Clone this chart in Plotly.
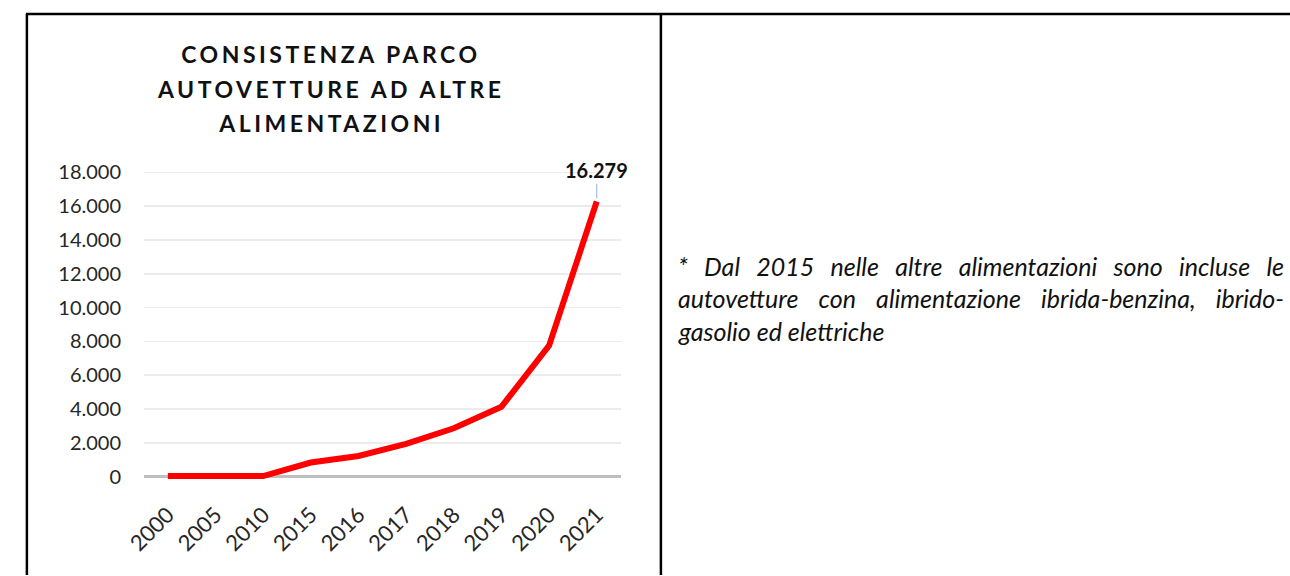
import plotly.graph_objects as go

# data
years = ["2000", "2005", "2010", "2015", "2016", "2017", "2018", "2019", "2020", "2021"]
vetture = [30, 60, 30, 830, 1220, 1930, 2860, 4130, 7750, 16279]

title_lines = ["CONSISTENZA PARCO", "AUTOVETTURE AD ALTRE", "ALIMENTAZIONI"]
note_lines = [
    "* Dal 2015 nelle altre alimentazioni sono incluse le",
    "autovetture con alimentazione ibrida-benzina, ibrido-",
    "gasolio ed elettriche",
]

W, H = 1290, 576
FONT = "Lato"

fig = go.Figure()
fig.add_trace(go.Scatter(
    x=years, y=vetture,
    mode="lines",
    line=dict(color="#ff0000", width=6),
    hoverinfo="x+y",
    showlegend=False,
))

# label on the last point, with the thin leader line
fig.add_annotation(
    x=len(years) - 1, y=vetture[-1],
    text="<b>16.279</b>",
    showarrow=True, arrowhead=0, arrowwidth=1.2, arrowcolor="#9dc3e6",
    ax=0, ay=-31, standoff=3,
    font=dict(family=FONT, size=20, color="#111111"),
)

# title, one annotation per line (paper == whole figure since margins are 0)
for i, line in enumerate(title_lines):
    fig.add_annotation(
        xref="paper", yref="paper", x=316 / W, y=1 - (47 + 35 * i) / H,
        text="<b>" + line + "</b>", showarrow=False,
        xanchor="center", yanchor="middle",
        font=dict(family=FONT, size=23, color="#111111"),
    )

# note in the right cell
for i, line in enumerate(note_lines):
    fig.add_annotation(
        xref="paper", yref="paper", x=666 / W, y=1 - (262 + 33 * i) / H,
        text="<i>" + line + "</i>", showarrow=False,
        xanchor="left", yanchor="middle", align="left",
        font=dict(family=FONT, size=25, color="#111111"),
    )

# table borders
border = dict(color="black", width=2.5)
fig.add_shape(type="line", xref="paper", yref="paper", x0=6 / W, x1=1, y0=1 - 6 / H, y1=1 - 6 / H, line=border)
fig.add_shape(type="line", xref="paper", yref="paper", x0=7 / W, x1=7 / W, y0=0, y1=1 - 6 / H, line=border)
fig.add_shape(type="line", xref="paper", yref="paper", x0=651 / W, x1=651 / W, y0=0, y1=1 - 6 / H, line=border)

fig.update_layout(
    width=W, height=H, autosize=False,
    margin=dict(l=0, r=0, t=0, b=0),
    paper_bgcolor="white", plot_bgcolor="white",
    separators=",.",
    font=dict(family=FONT, color="#262626"),
    xaxis=dict(
        domain=[126 / W, 610 / W],
        type="category",
        range=[-0.5, 9.5],
        tickangle=-45,
        showgrid=False, showline=False, zeroline=False,
        ticks="", ticklabelstandoff=10,
        tickfont=dict(family=FONT, size=22, color="#262626"),
    ),
    yaxis=dict(
        domain=[1 - 486.3 / H, 1 - 161.85 / H],
        range=[-600, 18300],
        tick0=0, dtick=2000, tickformat=",d",
        showgrid=True, gridcolor="#ebebeb", gridwidth=1.5,
        zeroline=True, zerolinecolor="#bfbfbf", zerolinewidth=2.5,
        showline=False, ticks="", ticklabelstandoff=22,
        tickfont=dict(family=FONT, size=20, color="#262626"),
    ),
)

# page without margins, letter spacing for the title, justified note lines
post = """
document.body.style.margin = '0';
document.body.style.overflow = 'hidden';
var gd = document.getElementById('{plot_id}');
function fixText() {
  gd.querySelectorAll('.annotation-text').forEach(function (t) {
    var s = t.textContent;
    if (s.indexOf('CONSISTENZA') === 0 || s.indexOf('AUTOVETTURE') === 0 || s.indexOf('ALIMENTAZIONI') === 0) {
      t.style.letterSpacing = '3.5px';
    }
    if (s.indexOf('* Dal') === 0 || s.indexOf('autovetture con') === 0) {
      t.style.wordSpacing = '0px';
      var w = t.getComputedTextLength();
      var n = (s.match(/ /g) || []).length;
      t.style.wordSpacing = ((606 - w) / n) + 'px';
    }
  });
}
fixText();
"""

fig.write_html("out.html", post_script=post, config={"staticPlot": True})
